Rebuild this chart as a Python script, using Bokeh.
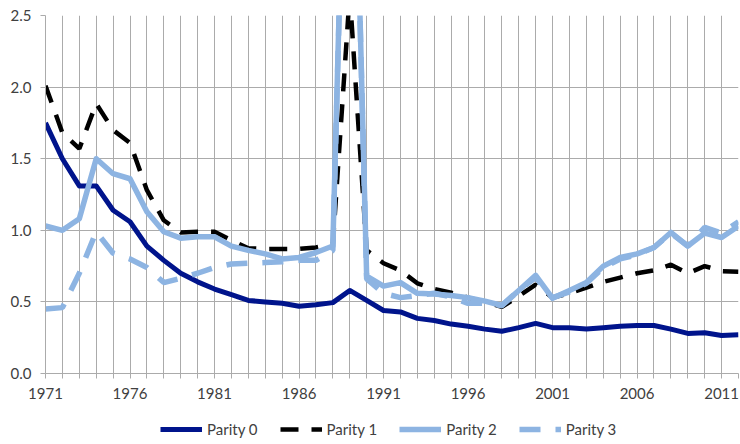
from bokeh.plotting import figure
from bokeh.layouts import column
from bokeh.models import Range1d, FixedTicker, Legend, LegendItem, PrintfTickFormatter, ColumnDataSource
from bokeh.embed import file_html
from bokeh.resources import INLINE

years = list(range(1971, 2013))

parity0 = [1.75, 1.50, 1.31, 1.31, 1.14, 1.06, 0.89, 0.79, 0.70, 0.64,
           0.59, 0.55, 0.51, 0.50, 0.49, 0.47, 0.48, 0.495, 0.58, 0.51,
           0.44, 0.43, 0.385, 0.37, 0.345, 0.33, 0.31, 0.295, 0.32, 0.35,
           0.32, 0.32, 0.31, 0.32, 0.33, 0.335, 0.335, 0.31, 0.28, 0.285,
           0.265, 0.27]

parity1 = [2.01, 1.68, 1.57, 1.885, 1.70, 1.61, 1.28, 1.07, 0.985, 0.99,
           0.99, 0.93, 0.875, 0.87, 0.87, 0.87, 0.88, 0.905, 2.65, 0.86,
           0.77, 0.72, 0.63, 0.59, 0.565, 0.53, 0.50, 0.465, 0.54, 0.62,
           0.53, 0.56, 0.60, 0.64, 0.67, 0.70, 0.72, 0.76, 0.70, 0.75,
           0.715, 0.71]

parity2 = [1.03, 1.00, 1.08, 1.50, 1.395, 1.36, 1.13, 0.99, 0.945, 0.955,
           0.955, 0.89, 0.86, 0.835, 0.80, 0.81, 0.845, 0.89, 5.3, 0.68,
           0.61, 0.635, 0.56, 0.555, 0.545, 0.53, 0.505, 0.475, 0.58, 0.685,
           0.525, 0.58, 0.635, 0.75, 0.81, 0.835, 0.88, 0.985, 0.89, 0.98,
           0.95, 1.03]

parity3 = [0.45, 0.46, 0.70, 0.99, 0.84, 0.80, 0.74, 0.635, 0.665, 0.70,
           0.74, 0.765, 0.77, 0.775, 0.78, 0.79, 0.79, 0.86, 5.3, 0.66,
           0.56, 0.53, 0.545, 0.56, 0.535, 0.49, 0.49, 0.475, 0.58, 0.67,
           0.53, 0.57, 0.63, 0.74, 0.80, 0.83, 0.88, 0.98, 0.89, 1.02,
           0.98, 1.06]

series_names = ["Parity 0", "Parity 1", "Parity 2", "Parity 3"]
y_ticks = [0.0, 0.5, 1.0, 1.5, 2.0, 2.5]
label_years = [y for y in years if (y - 1971) % 5 == 0]

NAVY = "#00148C"
LIGHT = "#8DB4E2"
GRID = "#ababab"
TEXT = "#404040"
FONT = "Lato"

styles = [dict(line_color=NAVY, line_width=5, line_join="round"),
          dict(line_color="black", line_width=4.5, line_dash="18 13"),
          dict(line_color=LIGHT, line_width=5.5, line_join="round"),
          dict(line_color=LIGHT, line_width=5.5, line_dash="21 15")]

src = ColumnDataSource(dict(x=years, p0=parity0, p1=parity1, p2=parity2, p3=parity3))

p = figure(frame_width=693, frame_height=358, output_backend="svg", toolbar_location=None,
           x_range=Range1d(1971, 2012), y_range=Range1d(0, 2.5),
           min_border_left=45, min_border_top=15, min_border_right=2, min_border_bottom=0)
p.outline_line_color = None
p.background_fill_color = "white"
p.border_fill_color = "white"

p.xaxis.ticker = FixedTicker(ticks=years)
p.xaxis.major_label_overrides = {y: (str(y) if y in label_years else "") for y in years}
p.yaxis.ticker = FixedTicker(ticks=y_ticks)
p.yaxis.formatter = PrintfTickFormatter(format="%.1f")
for ax in (p.xaxis, p.yaxis):
    ax.axis_line_color = GRID
    ax.major_tick_line_color = GRID
    ax.minor_tick_line_color = None
    ax.major_tick_in = 0
    ax.major_tick_out = 5
    ax.major_label_text_font = FONT
    ax.major_label_text_font_size = "15px"
    ax.major_label_text_color = TEXT
p.xaxis.major_label_standoff = 9
p.yaxis.major_label_standoff = 9

p.xgrid.ticker = FixedTicker(ticks=years)
p.ygrid.ticker = FixedTicker(ticks=y_ticks)
p.xgrid.grid_line_color = GRID
p.ygrid.grid_line_color = GRID

for col, st in zip(["p0", "p1", "p2", "p3"], styles):
    p.line("x", col, source=src, **st)

# legend strip below the chart (its renderers hold no visible data)
lf = figure(width=740, height=40, output_backend="svg", toolbar_location=None,
            x_range=Range1d(0, 1), y_range=Range1d(0, 1),
            min_border_left=0, min_border_right=0, min_border_top=0, min_border_bottom=0)
lf.axis.visible = False
lf.grid.visible = False
lf.outline_line_color = None
lf.background_fill_color = "white"
lf.border_fill_color = "white"
nan = float("nan")
empty = ColumnDataSource(dict(x=[nan], y=[nan]))
items = []
for name, st in zip(series_names, styles):
    rr = lf.line("x", "y", source=empty, **st)
    items.append(LegendItem(label=name, renderers=[rr]))

legend = Legend(items=items, location=(115, 3), orientation="horizontal",
                padding=0, margin=0, spacing=22, glyph_width=42, glyph_height=18,
                label_standoff=5, label_height=18,
                background_fill_alpha=0, border_line_color=None,
                label_text_font=FONT, label_text_font_size="15px", label_text_color=TEXT)
lf.add_layout(legend)

layout = column(p, lf, spacing=0)
open("out.html", "w").write(file_html(layout, INLINE))
